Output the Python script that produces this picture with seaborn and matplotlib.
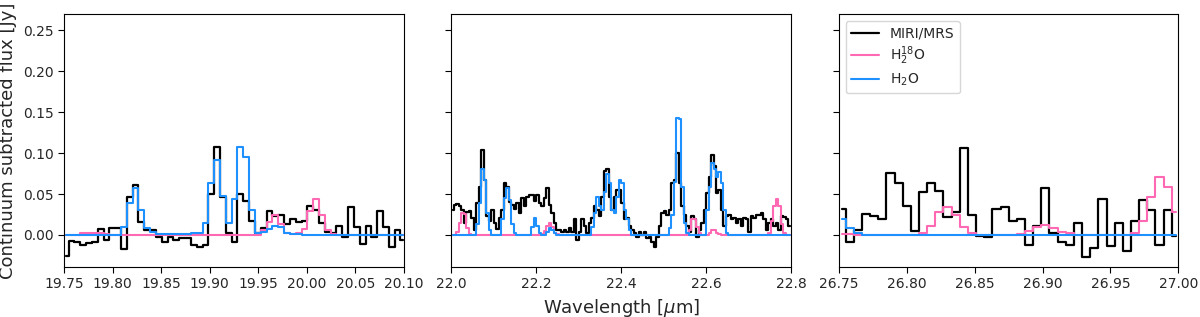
import numpy as np
import matplotlib
matplotlib.use("Agg")
import matplotlib.pyplot as plt
import seaborn as sns

# bin grids (centres of first bin and spacing)
start_1, step_1 = 19.7515, 0.006
start_2, step_2 = 22.0029, 0.005878
start_3, step_3 = 26.7521, 0.006

# --- panel 1: 19.75 - 20.10 um ---
obs_1 = [-0.026, -0.007, -0.009, -0.012, -0.010, -0.009, 0.007, -0.006, 0.008, 0.009,
         -0.017, 0.047, 0.061, 0.016, 0.006, 0.006, -0.002, -0.008, -0.002, -0.006,
         -0.004, -0.004, -0.012, -0.015, -0.012, 0.050, 0.107, 0.047, 0.002, -0.009,
         0.050, 0.042, 0.017, 0.003, 0.008, 0.029, 0.023, 0.025, 0.013, 0.020,
         0.016, 0.017, 0.036, 0.031, 0.015, 0.004, 0.003, 0.011, -0.002, 0.034,
         0.010, -0.011, 0.011, -0.002, 0.029, 0.010, -0.015, 0.006, -0.006]
h218o_1 = [0.0, 0.0, 0.0, 0.002, 0.003, 0.003, 0.002, 0.001, 0.0, 0.0,
           0.0, 0.0, 0.0, 0.0, 0.0, 0.0, 0.0, 0.0, 0.0, 0.0,
           0.0, 0.0, 0.0, 0.0, 0.0, 0.0, 0.0, 0.0, 0.0, 0.0,
           0.0, 0.0, 0.0, 0.0, 0.006, 0.016, 0.024, 0.013, 0.003, 0.001,
           0.003, 0.007, 0.029, 0.044, 0.025, 0.006, 0.001, 0.0, 0.0, 0.0,
           0.0, 0.0, 0.0, 0.0, 0.0, 0.0, 0.0, 0.0, 0.0]
h2o_1 = [0.0, 0.0, 0.0, 0.0, 0.0, 0.0, 0.0, 0.0, 0.0, 0.0,
         0.010, 0.039, 0.057, 0.031, 0.009, 0.004, 0.001, 0.001, 0.001, 0.001,
         0.001, 0.001, 0.002, 0.003, 0.015, 0.063, 0.092, 0.048, 0.015, 0.044,
         0.107, 0.095, 0.030, 0.003, 0.004, 0.007, 0.011, 0.010, 0.003, 0.001,
         0.001, 0.0, 0.0, 0.0, 0.0, 0.0, 0.0, 0.0, 0.0, 0.0,
         0.0, 0.0, 0.0, 0.0, 0.0, 0.0, 0.0, 0.0, 0.0]

# --- panel 2: 22.0 - 22.8 um ---
obs_2 = [0.031, 0.037, 0.038, 0.035, 0.031, 0.015, 0.028, 0.029, 0.021, 0.006,
         0.039, 0.059, 0.104, 0.067, 0.023, 0.017, 0.031, 0.015, 0.007, 0.021,
         0.031, 0.063, 0.059, 0.040, 0.037, 0.032, 0.039, 0.027, 0.045, 0.035,
         0.047, 0.049, 0.049, 0.041, 0.049, 0.039, 0.035, 0.045, 0.057, 0.037,
         0.027, 0.015, 0.006, 0.006, 0.004, 0.006, 0.004, 0.009, 0.004, 0.019,
         -0.006, 0.004, 0.019, 0.011, 0.002, 0.015, 0.021, 0.035, 0.031, 0.023,
         0.047, 0.078, 0.080, 0.047, 0.031, 0.047, 0.055, 0.055, 0.039, 0.019,
         0.021, 0.011, 0.006, 0.003, -0.002, 0.004, 0.000, 0.004, -0.004, -0.002,
         -0.008, -0.015, -0.002, 0.011, 0.027, 0.029, 0.025, 0.031, 0.063, 0.067,
         0.100, 0.063, 0.035, 0.025, 0.011, 0.004, 0.023, 0.019, -0.002, 0.006,
         0.015, 0.031, 0.051, 0.071, 0.098, 0.084, 0.051, 0.055, 0.031, 0.011,
         0.023, 0.025, 0.019, 0.021, 0.015, 0.019, 0.011, 0.021, 0.019, 0.004,
         0.023, 0.021, 0.025, 0.025, 0.027, 0.019, 0.006, 0.015, 0.019, 0.011,
         0.015, 0.006, 0.023, 0.022, 0.019, 0.011]
h218o_2 = [0.0, 0.0, 0.004, 0.015, 0.027, 0.026, 0.008, 0.001, 0.0, 0.0,
           0.0, 0.0, 0.0, 0.0, 0.0, 0.0, 0.0, 0.0, 0.0, 0.0,
           0.0, 0.0, 0.0, 0.0, 0.0, 0.0, 0.0, 0.0, 0.0, 0.0,
           0.0, 0.0, 0.0, 0.0, 0.0, 0.0, 0.001, 0.005, 0.011, 0.015,
           0.010, 0.003, 0.001, 0.0, 0.0, 0.0, 0.0, 0.0, 0.0, 0.0,
           0.0, 0.0, 0.0, 0.0, 0.0, 0.0, 0.0, 0.0, 0.0, 0.0,
           0.0, 0.0, 0.0, 0.0, 0.0, 0.0, 0.0, 0.0, 0.0, 0.0,
           0.0, 0.0, 0.0, 0.0, 0.0, 0.0, 0.0, 0.0, 0.0, 0.0,
           0.0, 0.0, 0.0, 0.0, 0.0, 0.0, 0.0, 0.0, 0.0, 0.0,
           0.0, 0.0, 0.0, 0.0, 0.0, 0.006, 0.019, 0.020, 0.010, 0.002,
           0.0, 0.0, 0.0, 0.003, 0.006, 0.006, 0.003, 0.001, 0.0, 0.0,
           0.0, 0.0, 0.0, 0.0, 0.0, 0.0, 0.0, 0.0, 0.0, 0.0,
           0.0, 0.0, 0.0, 0.0, 0.0, 0.0, 0.0, 0.002, 0.017, 0.036,
           0.044, 0.035, 0.014, 0.002, 0.0, 0.0]
h2o_2 = [0.0, 0.0, 0.0, 0.0, 0.0, 0.0, 0.0, 0.0, 0.0, 0.0,
         0.013, 0.039, 0.080, 0.067, 0.027, 0.006, 0.0, 0.0, 0.0, 0.0,
         0.019, 0.045, 0.058, 0.043, 0.013, 0.002, 0.0, 0.0, 0.0, 0.0,
         0.0, 0.0, 0.010, 0.021, 0.011, 0.002, 0.0, 0.0, 0.004, 0.009,
         0.006, 0.002, 0.0, 0.0, 0.0, 0.0, 0.0, 0.0, 0.0, 0.0,
         0.0, 0.0, 0.0, 0.0, 0.0, 0.0, 0.010, 0.027, 0.047, 0.035,
         0.031, 0.053, 0.075, 0.063, 0.031, 0.027, 0.047, 0.067, 0.063, 0.031,
         0.019, 0.006, 0.0, 0.0, 0.0, 0.0, 0.0, 0.0, 0.0, 0.0,
         0.0, 0.0, 0.0, 0.0, 0.0, 0.0, 0.0, 0.008, 0.025, 0.065,
         0.143, 0.142, 0.059, 0.015, 0.003, 0.0, 0.0, 0.0, 0.0, 0.0,
         0.0, 0.0, 0.031, 0.059, 0.088, 0.080, 0.071, 0.077, 0.063, 0.031,
         0.002, 0.0, 0.0, 0.0, 0.0, 0.0, 0.0, 0.0, 0.0, 0.0,
         0.0, 0.0, 0.0, 0.0, 0.0, 0.0, 0.0, 0.0, 0.0, 0.0,
         0.0, 0.0, 0.0, 0.0, 0.0, 0.0]

# --- panel 3: 26.75 - 27.00 um ---
obs_3 = [0.032, -0.008, 0.006, 0.026, 0.023, 0.019, 0.076, 0.064, 0.035, 0.005,
         0.053, 0.063, 0.054, 0.022, 0.028, 0.106, 0.025, -0.001, -0.003, 0.032,
         0.034, 0.017, 0.019, -0.012, 0.011, 0.057, 0.002, -0.009, -0.012, 0.015,
         -0.027, -0.016, 0.044, -0.013, 0.015, -0.020, 0.017, 0.043, 0.030, -0.012,
         0.030, -0.001]
h218o_3 = [0.001, 0.001, 0.0, 0.0, 0.0, 0.0, 0.0, 0.0, 0.0, 0.0,
           0.003, 0.011, 0.028, 0.034, 0.024, 0.010, 0.002, 0.0, 0.0, 0.0,
           0.0, 0.0, 0.001, 0.005, 0.010, 0.012, 0.009, 0.004, 0.002, 0.0,
           0.0, 0.0, 0.0, 0.0, 0.0, 0.0, 0.003, 0.017, 0.046, 0.071,
           0.059, 0.028]
h2o_3 = [0.019, 0.009, 0.003, 0.0, 0.0, 0.0, 0.0, 0.0, 0.0, 0.0,
         0.0, 0.0, 0.0, 0.0, 0.0, 0.0, 0.0, 0.0, 0.0, 0.0,
         0.0, 0.0, 0.0, 0.0, 0.0, 0.0, 0.0, 0.0, 0.0, 0.0,
         0.0, 0.0, 0.0, 0.0, 0.0, 0.0, 0.0, 0.0, 0.0, 0.0,
         0.0, 0.0]

panels = [
    (start_1, step_1, obs_1, h218o_1, h2o_1, (19.75, 20.10),
     [19.75, 19.80, 19.85, 19.90, 19.95, 20.00, 20.05, 20.10], "{:.2f}"),
    (start_2, step_2, obs_2, h218o_2, h2o_2, (22.0, 22.8),
     [22.0, 22.2, 22.4, 22.6, 22.8], "{:.1f}"),
    (start_3, step_3, obs_3, h218o_3, h2o_3, (26.75, 27.00),
     [26.75, 26.80, 26.85, 26.90, 26.95, 27.00], "{:.2f}"),
]

sns.set_style("ticks")
plt.rcParams["font.family"] = ["DejaVu Sans"]

fig, axes = plt.subplots(1, 3, figsize=(12, 3.17), dpi=100, sharey=True)
fig.subplots_adjust(left=0.0535, right=0.982, bottom=0.158, top=0.956, wspace=0.14)

for i, (ax, (x0, dx, obs, iso, main, xlim, xt, fmt)) in enumerate(zip(axes, panels)):
    lam = x0 + dx * np.arange(len(obs))
    sns.lineplot(x=lam, y=obs, color="black", lw=1.6, drawstyle="steps-mid",
                 estimator=None, ax=ax, label="MIRI/MRS")
    sns.lineplot(x=lam, y=iso, color="hotpink", lw=1.5, drawstyle="steps-mid",
                 estimator=None, ax=ax, label=r"H$_2^{18}$O")
    sns.lineplot(x=lam, y=main, color="dodgerblue", lw=1.5, drawstyle="steps-mid",
                 estimator=None, ax=ax, label=r"H$_2$O")
    ax.set_xlim(*xlim)
    ax.set_xticks(xt)
    ax.set_xticklabels([fmt.format(v) for v in xt])
    ax.tick_params(labelsize=10, length=4, color="black")
    for s in ax.spines.values():
        s.set_visible(True)
        s.set_color("black")
        s.set_linewidth(0.8)
    if i == 2:
        ax.legend(loc="upper left", fontsize=10, frameon=True, labelspacing=0.3)
    else:
        ax.get_legend().remove()

axes[0].set_ylim(-0.039, 0.27)
axes[0].set_yticks([0.0, 0.05, 0.10, 0.15, 0.20, 0.25])
axes[0].set_yticklabels(["0.00", "0.05", "0.10", "0.15", "0.20", "0.25"])
axes[0].set_ylabel("Continuum subtracted flux [Jy]", fontsize=13)
axes[1].set_xlabel(r"Wavelength [$\mu$m]", fontsize=13)

fig.savefig("out.png", dpi=100)
